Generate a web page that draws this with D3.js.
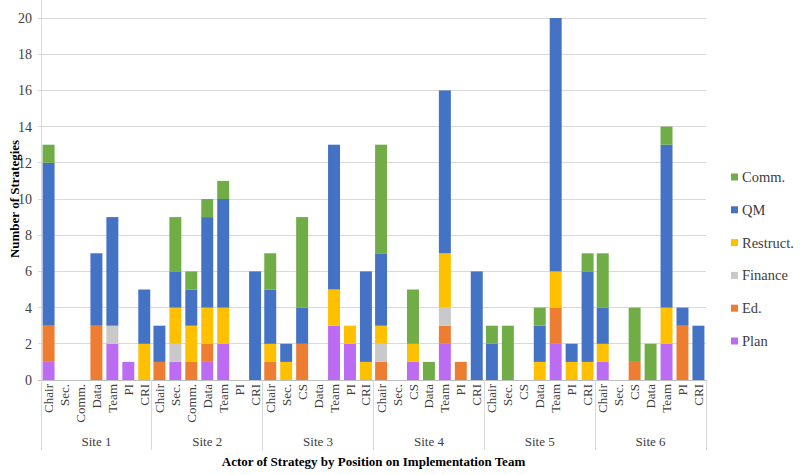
<!DOCTYPE html>
<html><head><meta charset="utf-8">
<script src="https://cdn.jsdelivr.net/npm/d3@7"></script>
</head><body style="margin:0;background:#fff">
<svg id="c" width="800" height="475"></svg>
<script>
const sites = ["Site 1","Site 2","Site 3","Site 4","Site 5","Site 6"];
const roles = [
  ["Chair","Sec.","Comm.","Data","Team","PI","CRI"],
  ["Chair","Sec.","Comm.","Data","Team","PI","CRI"],
  ["Chair","Sec.","CS","Data","Team","PI","CRI"],
  ["Chair","Sec.","CS","Data","Team","PI","CRI"],
  ["Chair","Sec.","CS","Data","Team","PI","CRI"],
  ["Chair","Sec.","CS","Data","Team","PI","CRI"]
];
const seriesNames = ["Plan","Ed.","Finance","Restruct.","QM","Comm."];
const seriesColors = ["#BC6CF2","#ED7D31","#C9C9C9","#FFC000","#4472C4","#70AD47"];
// values per site, per role (Chair..CRI)
const plan     = [[1,0,0,0,2,1,0],[0,1,0,1,2,0,0],[0,0,0,0,3,2,0],[0,0,1,0,2,0,0],[0,0,0,0,2,0,0],[1,0,0,0,2,0,0]];
const ed       = [[2,0,0,3,0,0,0],[1,0,1,1,0,0,0],[1,0,2,0,0,0,0],[1,0,0,0,1,1,0],[0,0,0,0,2,0,0],[0,0,1,0,0,3,0]];
const finance  = [[0,0,0,0,1,0,0],[0,1,0,0,0,0,0],[0,0,0,0,0,0,0],[1,0,0,0,1,0,0],[0,0,0,0,0,0,0],[0,0,0,0,0,0,0]];
const restruct = [[0,0,0,0,0,0,2],[0,2,2,2,2,0,0],[1,1,0,0,2,1,1],[1,0,1,0,3,0,0],[0,0,0,1,2,1,1],[1,0,0,0,2,0,0]];
const qm       = [[9,0,0,4,6,0,3],[2,2,2,5,6,0,6],[3,1,2,0,8,0,5],[4,0,0,0,9,0,6],[2,0,0,2,14,1,5],[2,0,0,0,9,1,3]];
const comm     = [[1,0,0,0,0,0,0],[0,3,1,1,1,0,0],[2,0,5,0,0,0,0],[6,0,3,1,0,0,0],[1,3,0,1,0,0,1],[3,0,3,2,1,0,0]];
const yTicks = [0,2,4,6,8,10,12,14,16,18,20];

const seriesVals = [plan, ed, finance, restruct, qm, comm];
const rows = [];
sites.forEach((s,i)=>roles[i].forEach((r,j)=>{
  const o = {site:s, role:r, idx:j};
  seriesNames.forEach((n,k)=>o[n]=seriesVals[k][i][j]);
  rows.push(o);
}));

const FF = "Liberation Serif";
const svg = d3.select("#c");
const L=41, R=706, T=18, B=380;
const x0 = d3.scaleBand().domain(sites).range([L,R]).padding(0);
const x1 = d3.scaleBand().domain(d3.range(7)).range([0,x0.bandwidth()]).paddingInner(0.25).paddingOuter(0.1);
const y = d3.scaleLinear().domain([0,20]).range([B,T]);
const color = d3.scaleOrdinal().domain(seriesNames).range(seriesColors);

// gridlines
svg.append("g").selectAll("line").data(yTicks).join("line")
  .attr("x1",L-3).attr("x2",R).attr("y1",d=>y(d)).attr("y2",d=>y(d))
  .attr("stroke",d=>d===0?"#BFBFBF":"#D9D9D9").attr("stroke-width",1).attr("shape-rendering","crispEdges");
// y axis line
svg.append("line").attr("x1",L).attr("x2",L).attr("y1",T-18).attr("y2",450).attr("stroke","#D9D9D9").attr("shape-rendering","crispEdges");
// y labels
svg.append("g").selectAll("text").data(yTicks).join("text")
  .attr("x",L-9).attr("y",d=>y(d)).attr("dy","0.35em").attr("text-anchor","end")
  .attr("font-family",FF).attr("font-size",14).attr("fill","#404040").text(d=>d);

// bars
const stack = d3.stack().keys(seriesNames)(rows);
const xPos = d => x0(d.data.site)+x1(d.data.idx);
svg.append("g").selectAll("g").data(stack).join("g").attr("fill",s=>color(s.key))
  .selectAll("rect").data(s=>s.filter(d=>d[1]>d[0])).join("rect")
  .attr("x",xPos).attr("width",x1.bandwidth())
  .attr("y",d=>y(d[1])).attr("height",d=>y(d[0])-y(d[1]));

// site separators
svg.append("g").selectAll("line").data(sites).join("line")
  .attr("x1",d=>x0(d)+x0.bandwidth()).attr("x2",d=>x0(d)+x0.bandwidth())
  .attr("y1",B).attr("y2",450).attr("stroke","#D9D9D9").attr("shape-rendering","crispEdges");

// role labels
svg.append("g").selectAll("text").data(rows).join("text")
  .attr("transform",r=>`translate(${x0(r.site)+x1(r.idx)+x1.bandwidth()/2},${B+4}) rotate(-90)`)
  .attr("text-anchor","end").attr("dy","0.35em").attr("font-family",FF).attr("font-size",13).attr("fill","#404040").text(r=>r.role);
// site labels
svg.append("g").selectAll("text").data(sites).join("text")
  .attr("x",d=>x0(d)+x0.bandwidth()/2).attr("y",441).attr("dy","0.35em").attr("text-anchor","middle")
  .attr("font-family",FF).attr("font-size",13).attr("fill","#404040").text(d=>d);

// axis titles
svg.append("text").attr("x",(L+R)/2).attr("y",461).attr("dy","0.35em").attr("text-anchor","middle")
  .attr("font-family",FF).attr("font-size",13).attr("font-weight","bold").attr("fill","#000").text("Actor of Strategy by Position on Implementation Team");
svg.append("text").attr("transform",`translate(14,${(T+B)/2}) rotate(-90)`).attr("dy","0.35em").attr("text-anchor","middle")
  .attr("font-family",FF).attr("font-size",13).attr("font-weight","bold").attr("fill","#000").text("Number of Strategies");

// legend
const legendOrder = ["Comm.","QM","Restruct.","Finance","Ed.","Plan"];
const lg = svg.append("g").selectAll("g").data(legendOrder).join("g")
  .attr("transform",(d,i)=>`translate(731,${177+i*32.8})`);
lg.append("rect").attr("x",0).attr("y",-3.5).attr("width",7).attr("height",7).attr("fill",d=>color(d));
lg.append("text").attr("x",11).attr("dy","0.35em").attr("font-family",FF).attr("font-size",14.5).attr("fill","#404040").text(d=>d);
</script>
</body></html>
